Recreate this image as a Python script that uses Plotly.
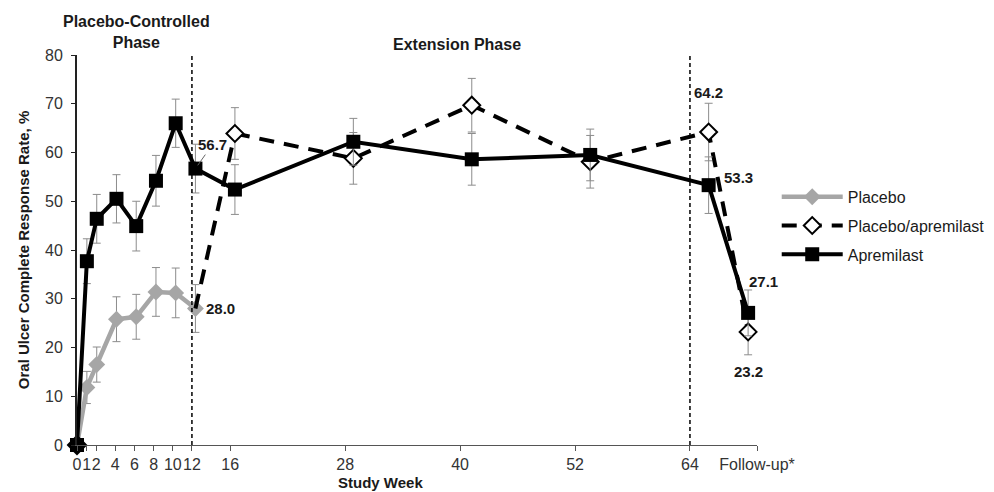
import plotly.graph_objects as go

# ---------------- data ----------------
FOLLOW_UP = 68  # position of the follow-up visit on the data scale (weeks)

placebo_weeks = [0, 1, 2, 4, 6, 8, 10, 12]
placebo_vals = [0, 11.8, 16.5, 25.8, 26.3, 31.4, 31.2, 28.0]
placebo_err = [0, 3.3, 3.6, 4.6, 4.6, 5.0, 5.1, 4.9]

pboapr_weeks = [16, 28, 40, 52, 64, FOLLOW_UP]
pboapr_vals = [63.9, 58.8, 69.7, 58.1, 64.2, 23.2]
pboapr_err = [5.3, 5.3, 5.5, 5.4, 5.9, 4.7]

apr_weeks = [0, 1, 2, 4, 6, 8, 10, 12, 16, 28, 40, 52, 64, FOLLOW_UP]
apr_vals = [0, 37.7, 46.4, 50.5, 44.9, 54.2, 66.0, 56.7, 52.4, 62.2, 58.6, 59.5, 53.3, 27.1]
apr_err = [0, 4.6, 5.0, 4.95, 5.1, 5.2, 4.95, 5.0, 5.1, 4.8, 5.3, 5.3, 5.8, 4.7]

tick_weeks = [0, 1, 2, 4, 6, 8, 10, 12, 16, 28, 40, 52, 64]
tick_text = ["0", "1", "2", "4", "6", "8", "10", "12", "16", "28", "40", "52", "64"]
followup_label = "Follow-up*"
phase_lines = [12, 64]

# ---------------- styling ----------------
DATA_XMAX = 68.9
TICK_XMAX = 71.0
FONT = "Arial, Liberation Sans, sans-serif"
GRAY = "#a6a6a6"
ERR = dict(type="data", color="#8c8c8c", thickness=1, width=4)

fig = go.Figure()

fig.add_trace(go.Scatter(
    x=placebo_weeks, y=placebo_vals, name="Placebo", mode="lines+markers",
    legendgroup="g1",
    line=dict(color=GRAY, width=4.5),
    marker=dict(symbol="diamond", size=13, color=GRAY, line=dict(width=0)),
    error_y=dict(array=placebo_err, **ERR),
    cliponaxis=False,
))
# baseline placebo point is drawn black in the original
fig.add_trace(go.Scatter(
    x=placebo_weeks[:1], y=placebo_vals[:1], mode="markers", showlegend=False,
    marker=dict(symbol="diamond", size=16, color="#000000"),
    cliponaxis=False, hoverinfo="skip",
))

# dashed switch segment from the last placebo point (week 12) to week 16
fig.add_trace(go.Scatter(
    x=[placebo_weeks[-1], pboapr_weeks[0]], y=[placebo_vals[-1], pboapr_vals[0]],
    mode="lines", showlegend=False, hoverinfo="skip",
    line=dict(color="#000000", width=4, dash="15px,10px"),
    cliponaxis=False,
))
fig.add_trace(go.Scatter(
    x=pboapr_weeks, y=pboapr_vals, name="Placebo/apremilast", mode="lines+markers",
    legendgroup="g2",
    line=dict(color="#000000", width=4, dash="15px,10px"),
    marker=dict(symbol="diamond", size=13, color="#ffffff",
                line=dict(color="#000000", width=2)),
    error_y=dict(array=pboapr_err, **ERR),
    cliponaxis=False,
))

fig.add_trace(go.Scatter(
    x=apr_weeks, y=apr_vals, name="Apremilast", mode="lines+markers",
    legendgroup="g3",
    line=dict(color="#000000", width=4),
    marker=dict(symbol="square", size=14, color="#000000"),
    error_y=dict(array=apr_err, **ERR),
    cliponaxis=False,
))

for w in phase_lines:
    fig.add_shape(type="line", xref="x2", yref="y", x0=w, x1=w, y0=0, y1=80,
                  line=dict(color="#000000", width=1.5, dash="4px,3px"))

lab_font = dict(family=FONT, size=15, color="#1a1a1a")
def lab(x, y, text, **kw):
    fig.add_annotation(x=x, y=y, xref="x", yref="y", text="<b>%s</b>" % text,
                       showarrow=False, font=lab_font, **kw)

lab(12, placebo_vals[-1], "28.0", xanchor="left", xshift=9)
lab(64, pboapr_vals[4], "64.2", xanchor="center", yshift=40)
lab(64, apr_vals[12], "53.3", xanchor="left", xshift=13, yshift=8)
lab(FOLLOW_UP, apr_vals[13], "27.1", xanchor="center", xshift=15, yshift=31)
lab(FOLLOW_UP, pboapr_vals[5], "23.2", xanchor="center", yshift=-40)
fig.add_annotation(x=12, y=apr_vals[7], xref="x", yref="y", text="<b>56.7</b>",
                   showarrow=True, arrowhead=0, arrowwidth=1, arrowcolor="#666666",
                   ax=17, ay=-24, standoff=4, font=lab_font)

head_font = dict(family=FONT, size=16, color="#1a1a1a")
fig.add_annotation(x=0.088, y=1.059, xref="paper", yref="paper",
                   text="<b>Placebo-Controlled<br>Phase</b>", showarrow=False,
                   font=head_font, xanchor="center", yanchor="middle")
fig.add_annotation(x=0.559, y=1.028, xref="paper", yref="paper",
                   text="<b>Extension Phase</b>", showarrow=False,
                   font=head_font, xanchor="center", yanchor="middle")
fig.add_annotation(x=0.446, y=-0.097, xref="paper", yref="paper",
                   text="<b>Study Week</b>", showarrow=False,
                   font=dict(family=FONT, size=15, color="#1a1a1a"),
                   xanchor="center", yanchor="middle")

# the page body adds an 8px offset, so margins are shifted to compensate
fig.update_layout(
    width=994, height=492,
    margin=dict(l=69, r=245, t=47, b=55, autoexpand=False),
    paper_bgcolor="#ffffff", plot_bgcolor="#ffffff",
    font=dict(family=FONT, size=16, color="#333333"),
    showlegend=True,
    legend=dict(x=1.029, y=0.68, xanchor="left", yanchor="top",
                font=dict(family=FONT, size=16, color="#1a1a1a"),
                itemwidth=61, tracegroupgap=5, bgcolor="rgba(0,0,0,0)"),
    xaxis=dict(range=[0, DATA_XMAX], visible=False, fixedrange=True, automargin=False),
    xaxis2=dict(overlaying="x", anchor="y", side="bottom", range=[0, TICK_XMAX],
                tickvals=tick_weeks + [TICK_XMAX], ticktext=tick_text + [followup_label],
                tickangle=0, automargin=False,
                showline=True, linecolor="#555555", linewidth=1,
                ticks="outside", ticklen=5, tickcolor="#555555",
                showgrid=False, zeroline=False,
                tickfont=dict(family=FONT, size=16, color="#333333")),
    yaxis=dict(range=[0, 80], dtick=10, showline=True, linecolor="#222222", linewidth=2,
               ticks="outside", ticklen=4, tickcolor="#222222", showgrid=False,
               zeroline=False, ticklabelstandoff=5, automargin=False,
               tickfont=dict(family=FONT, size=16, color="#333333"),
               title=dict(text="<b>Oral Ulcer Complete Response Rate, %</b>",
                          font=dict(family=FONT, size=15, color="#1a1a1a"), standoff=12)),
)

fig.write_html("out.html")
